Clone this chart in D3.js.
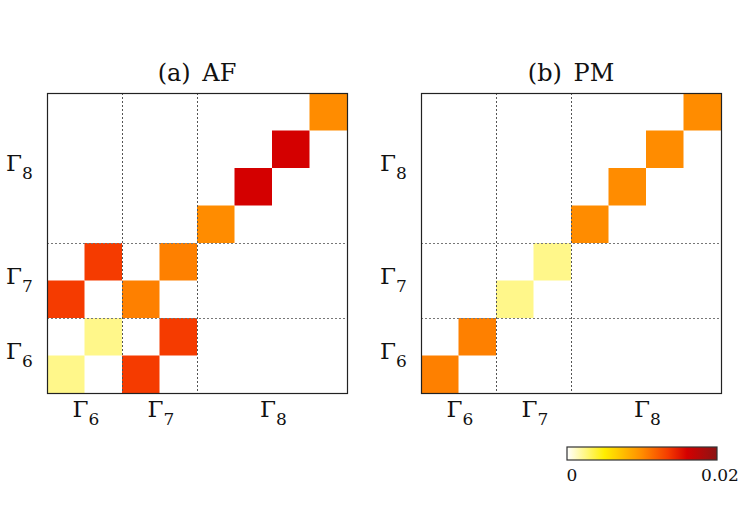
<!DOCTYPE html>
<html>
<head>
<meta charset="utf-8">
<script src="https://cdn.jsdelivr.net/npm/d3@7"></script>
<style>
  html, body { margin: 0; padding: 0; background: #fff; }
</style>
</head>
<body>
<svg id="chart" width="747" height="523" font-family="'DejaVu Serif', serif"></svg>
<script>
// ---- data ----
const nStates = 8;
const groupNames = ["Γ", "Γ", "Γ"];
const groupSubs = ["6", "7", "8"];
const groupStart = [0, 2, 4];
const groupEnd = [2, 4, 8];

const panelTitles = ["(a) AF", "(b) PM"];

// AF panel non-zero cells: column index, row index (0 = bottom), value
const afCols = [0, 1, 2, 3, 0, 1, 2, 3, 4, 5, 6, 7];
const afRows = [0, 1, 0, 1, 2, 3, 2, 3, 4, 5, 6, 7];
const afVals = [0.0023, 0.0023, 0.0135, 0.0135, 0.0135, 0.0135, 0.0105, 0.0105, 0.0100, 0.0160, 0.0160, 0.0100];

// PM panel non-zero cells
const pmCols = [0, 1, 2, 3, 4, 5, 6, 7];
const pmRows = [0, 1, 2, 3, 4, 5, 6, 7];
const pmVals = [0.0105, 0.0105, 0.0023, 0.0023, 0.0100, 0.0100, 0.0100, 0.0100];

const cbMin = 0, cbMax = 0.02;
const cbTickVals = [0, 0.02];
const cbTickLabels = ["0", "0.02"];

// ---- drawing ----
const svg = d3.select("#chart");
const color = d3.scaleLinear()
  .domain([0, 0.005, 0.01, 0.0135, 0.016, 0.02])
  .range(["#ffffff", "#ffee00", "#ff8c00", "#f53b00", "#d40000", "#8b1414"])
  .clamp(true);

const panels = [
  { x0: 47, cols: afCols, rows: afRows, vals: afVals, title: panelTitles[0] },
  { x0: 421, cols: pmCols, rows: pmRows, vals: pmVals, title: panelTitles[1] }
];
const size = 300, plotTop = 93;

function gammaLabel(sel, i, anchorX, anchorY) {
  const t = sel.append("text")
    .attr("x", anchorX).attr("y", anchorY)
    .attr("font-size", 23)
    .attr("fill", "#111");
  t.append("tspan").text(groupNames[i]);
  t.append("tspan").attr("font-size", 17).attr("dy", 8).text(groupSubs[i]);
}

panels.forEach(p => {
  const x = d3.scaleLinear().domain([0, nStates]).range([p.x0, p.x0 + size]);
  const y = d3.scaleLinear().domain([0, nStates]).range([plotTop + size, plotTop]);
  const g = svg.append("g");

  const cells = p.vals.map((v, k) => ({ c: p.cols[k], r: p.rows[k], v }));
  g.selectAll("rect.cell").data(cells).enter().append("rect")
    .attr("class", "cell")
    .attr("x", d => x(d.c))
    .attr("y", d => y(d.r + 1))
    .attr("width", d => x(d.c + 1) - x(d.c))
    .attr("height", d => y(d.r) - y(d.r + 1))
    .attr("fill", d => color(d.v));

  // dotted separators
  const seps = groupStart.slice(1);
  g.selectAll("line.v").data(seps).enter().append("line")
    .attr("x1", d => Math.round(x(d)) + 0.5).attr("x2", d => Math.round(x(d)) + 0.5)
    .attr("y1", plotTop).attr("y2", plotTop + size)
    .attr("stroke", "#555").attr("stroke-width", 1).attr("stroke-dasharray", "2,2");
  g.selectAll("line.h").data(seps).enter().append("line")
    .attr("y1", d => Math.round(y(d)) + 0.5).attr("y2", d => Math.round(y(d)) + 0.5)
    .attr("x1", p.x0).attr("x2", p.x0 + size)
    .attr("stroke", "#777").attr("stroke-width", 1).attr("stroke-dasharray", "2,2");

  // frame
  g.append("rect")
    .attr("x", p.x0 + 0.5).attr("y", plotTop + 0.5)
    .attr("width", size).attr("height", size)
    .attr("fill", "none").attr("stroke", "#222").attr("stroke-width", 1.2);

  // title
  g.append("text")
    .attr("x", p.x0 + size / 2).attr("y", 81)
    .attr("text-anchor", "middle").attr("font-size", 24)
    .attr("word-spacing", 4)
    .attr("fill", "#111")
    .text(p.title);

  // axis group labels
  groupNames.forEach((_, i) => {
    const cx = (x(groupStart[i]) + x(groupEnd[i])) / 2;
    gammaLabel(g, i, cx - 12, plotTop + size + 24);
    const cy = (y(groupStart[i]) + y(groupEnd[i])) / 2;
    gammaLabel(g, i, p.x0 - 41, cy + 3);
  });
});

// colorbar
const cbX = 567, cbY = 447, cbW = 150, cbH = 13;
const defs = svg.append("defs");
const grad = defs.append("linearGradient").attr("id", "cbgrad");
d3.range(0, 1.0001, 0.025).forEach(t => {
  grad.append("stop").attr("offset", t).attr("stop-color", color(cbMin + t * (cbMax - cbMin)));
});
svg.append("rect").attr("x", cbX).attr("y", cbY).attr("width", cbW).attr("height", cbH)
  .attr("fill", "url(#cbgrad)").attr("stroke", "#333").attr("stroke-width", 1.2);
const cbScale = d3.scaleLinear().domain([cbMin, cbMax]).range([cbX, cbX + cbW]);
svg.selectAll("text.cb").data(cbTickVals).enter().append("text")
  .attr("class", "cb")
  .attr("x", (d, i) => cbScale(d) + (i === 0 ? 5 : 3))
  .attr("y", 481)
  .attr("text-anchor", "middle")
  .attr("font-size", 17)
  .attr("fill", "#111")
  .text((d, i) => cbTickLabels[i]);
</script>
</body>
</html>
